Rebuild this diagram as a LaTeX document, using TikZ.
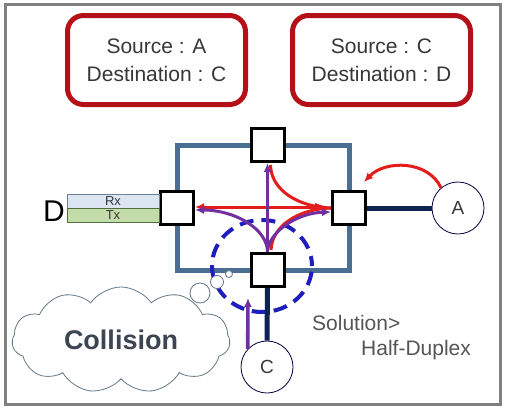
\documentclass[tikz,border=0pt]{standalone}
\usepackage{fontspec}
\setmainfont{Liberation Sans}
\usetikzlibrary{arrows.meta,shapes.symbols,calc}
\definecolor{boxred}{RGB}{180,16,24}
\definecolor{arrred}{RGB}{228,28,28}
\definecolor{purp}{RGB}{112,48,160}
\definecolor{netblue}{RGB}{74,111,146}
\definecolor{navy}{RGB}{15,35,80}
\definecolor{dashblue}{RGB}{30,30,190}
\definecolor{framegray}{RGB}{128,128,128}
\definecolor{txtgray}{RGB}{55,55,55}
\definecolor{cloudgray}{RGB}{100,120,135}
\definecolor{rxfill}{RGB}{220,230,242}
\definecolor{rxline}{RGB}{110,130,150}
\definecolor{txfill}{RGB}{196,220,170}
\definecolor{txline}{RGB}{80,110,60}
\tikzset{
  sw/.style={draw=black, fill=white, line width=3pt, minimum size=33pt, inner sep=0pt},
  host/.style={circle, draw=black!75!blue, line width=0.8pt, fill=white, minimum size=52pt, inner sep=0pt, font=\fontsize{19}{19}\selectfont, text=txtgray},
  infobox/.style={draw=boxred, line width=5pt, rounded corners=16pt, minimum width=178pt, minimum height=89pt, align=center, font=\fontsize{21}{28}\selectfont, text=txtgray},
  redline/.style={draw=arrred, line width=3pt},
  redarr/.style={redline, -{Latex[length=9pt,width=8pt]}},
  purarr/.style={draw=purp, line width=3pt, -{Latex[length=9pt,width=8pt]}},
  purvert/.style={purarr, line width=3.6pt},
  link/.style={draw=navy, line width=5pt},
  net/.style={draw=netblue, line width=5pt},
  bubble/.style={circle, draw=cloudgray, line width=0.8pt, fill=white, inner sep=0pt},
  plain/.style={font=\fontsize{21}{21}\selectfont, text=txtgray!85, inner sep=0pt},
}
\begin{document}
\begin{tikzpicture}[x=1pt,y=-1pt]
\useasboundingbox (0,0) rectangle (506,410);
\fill[white] (0,0) rectangle (506,410);
\draw[framegray, line width=3pt] (5,4.5) rectangle (500.5,404.5);

% info boxes
\node[infobox] (box1) at (156.5,60) {Source : A\\Destination : C};
\node[infobox] (box2) at (381.5,60) {Source : C\\Destination : D};

% switches
\node[sw] (T) at (267.5,145) {};
\node[sw] (L) at (177,208) {};
\node[sw] (R) at (349,208) {};
\node[sw] (B) at (267.5,270) {};

% network ring
\draw[net] (T.west) -| (L.north);
\draw[net] (T.east) -| (R.north);
\draw[net] (B.west) -| (L.south);
\draw[net] (B.east) -| (R.south);

% collision ellipse
\draw[dashblue, line width=4pt, dash pattern=on 14pt off 8pt, dash phase=4pt] (262,266) ellipse [x radius=50pt, y radius=46pt];

% redraw switches on top
\node[sw] at (T) {};
\node[sw] at (L) {};
\node[sw] at (R) {};
\node[sw] at (B) {};

% hosts
\node[host] (A) at (458,208) {A};
\node[host] (C) at (267,367) {C};
\draw[link] (R.east) -- (A.west);
\draw[link] (B.south) -- (C.north);

% D with Rx / Tx
\node[font=\fontsize{30}{30}\selectfont, inner sep=0pt] (D) at (54,211) {D};
\node[draw=rxline, fill=rxfill, line width=0.8pt, minimum width=92pt, minimum height=14pt, inner sep=0pt, font=\fontsize{13}{13}\selectfont, text=txtgray] (rx) at (113,201) {Rx};
\node[draw=txline, fill=txfill, line width=0.8pt, minimum width=92pt, minimum height=14pt, inner sep=0pt, font=\fontsize{13}{13}\selectfont, text=txtgray] (tx) at (113,215) {Tx};

% red arrows (from right switch)
\draw[redline, {Latex[length=16pt,width=8pt]}-{Latex[length=9pt,width=8pt]}] ($(R.west)+(0,-1)$) -- ($(L.east)+(0,-1)$);
\draw[redline] (R.west) .. controls (298,207) and (271,190) .. ($(T.south)+(3,2)$);
\draw[redline] (R.west) .. controls (298,209) and (272,226) .. (271,250);
% purple arrows (from bottom switch)
\draw[purarr] (B.north) .. controls (267.5,229) and (235,210) .. ($(L.east)+(0,2)$);
\draw[purarr] (B.north) .. controls (268,233) and (296,213) .. ($(R.west)+(0,4)$);
\draw[purvert] (B.north) -- (T.south);

% red arrow from A
\coordinate (ain) at (364,182);
\draw[redarr] (A.130) .. controls (428,160) and (385,160) .. (ain);

% purple arrow from C
\coordinate (cup) at (248,298);
\draw[purvert] (C.137) -- (cup);

% collision cloud
\node[cloud, cloud puffs=11, cloud puff arc=110, aspect=2.05, draw=cloudgray, line width=0.8pt, fill=white, minimum width=218pt, minimum height=106pt, font=\bfseries\fontsize{27}{27}\selectfont, text={rgb,255:red,60;green,70;blue,82}] (cl) at (121,340) {Collision};
\node[bubble, minimum size=20pt] (b3) at (200,293) {};
\node[bubble, minimum size=13pt] (b2) at (217,282) {};
\node[bubble, minimum size=7pt] (b1) at (229,274) {};

% solution text
\node[plain, anchor=west] (sol) at (312,323) {Solution>};
\node[plain, anchor=west] (hd) at (361,350) {Half-Duplex};
\end{tikzpicture}
\end{document}
